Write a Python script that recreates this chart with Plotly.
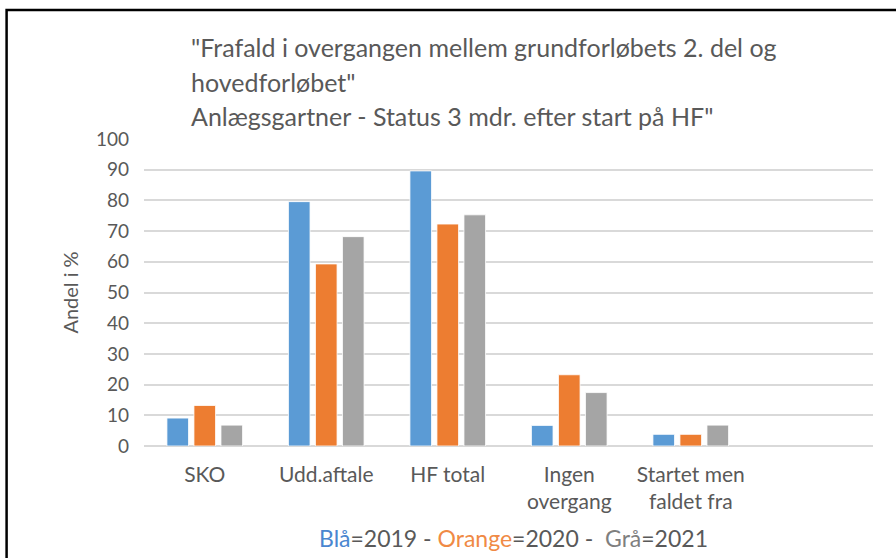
import plotly.graph_objects as go

categories = ["SKO", "Udd.aftale", "HF total", "Ingen<br>overgang", "Startet men<br>faldet fra"]
v2019 = [9.1, 79.6, 89.6, 6.7, 3.8]
v2020 = [13.2, 59.3, 72.3, 23.2, 3.8]
v2021 = [6.8, 68.2, 75.3, 17.4, 6.8]
series = [("2019", v2019, "#5B9BD5"), ("2020", v2020, "#ED7D31"), ("2021", v2021, "#A5A5A5")]
yticks = list(range(0, 101, 10))

title_lines = [
    '"Frafald i overgangen mellem grundforløbets 2. del og',
    'hovedforløbet"',
    'Anlægsgartner - Status 3 mdr. efter start på HF"',
]

FONT = "Lato, Carlito, Calibri, sans-serif"
TXT = "#595959"

fig = go.Figure()
for name, vals, col in series:
    fig.add_trace(go.Bar(x=categories, y=vals, name=name, marker=dict(color=col, line=dict(color="white", width=0.8))))

W, H = 896, 558
L, R, T, B = 143.5, 873, 139, 446
pw, ph = R - L, B - T

def px(x):
    return (x - L) / pw

def py(y):
    return (B - y) / ph

fig.update_layout(
    width=W, height=H,
    margin=dict(l=L, r=W - R, t=T, b=H - B, autoexpand=False),
    paper_bgcolor="white", plot_bgcolor="white",
    barmode="group", bargap=0.333, bargroupgap=0.2,
    showlegend=False,
    font=dict(family=FONT, color=TXT, size=19),
    xaxis=dict(type="category", range=[-0.5, 5.5], showgrid=False, showline=False,
               tickfont=dict(size=21, color=TXT), ticklabelstandoff=14, fixedrange=True),
    yaxis=dict(range=[0, 100], tickvals=yticks, gridcolor="#D9D9D9", gridwidth=1.5,
               zeroline=True, zerolinecolor="#D9D9D9", zerolinewidth=1.5,
               tickfont=dict(size=19, color=TXT), ticklabelstandoff=14,
               title=dict(text="Andel i %", font=dict(size=20, color=TXT), standoff=11)),
)

for i, (line, yy) in enumerate(zip(title_lines, [47, 82, 116])):
    fig.add_annotation(text=line, xref="paper", yref="paper", x=px(189), y=py(yy),
                       xanchor="left", yanchor="middle", showarrow=False,
                       font=dict(size=25, color=TXT, family=FONT))

legend_text = ('<span style="color:#4A86D0">Blå</span>=2019 - '
               '<span style="color:#F08A45">Orange</span>=2020 -  '
               '<span style="color:#7F7F7F">Grå</span>=2021')
fig.add_annotation(text=legend_text, xref="paper", yref="paper", x=px(513), y=py(538),
                   xanchor="center", yanchor="middle", showarrow=False,
                   font=dict(size=23, color=TXT, family=FONT))

fig.add_shape(type="rect", xref="paper", yref="paper",
              x0=px(6), x1=px(905), y0=py(570), y1=py(10),
              line=dict(color="black", width=2.5), fillcolor="rgba(0,0,0,0)", layer="above")

fig.write_html("out.html", config={"displayModeBar": False})

with open("out.html", "r", encoding="utf-8") as f:
    html = f.read()
html = html.replace("<head>", "<head><style>html,body{margin:0;padding:0;overflow:hidden;}</style>", 1)
with open("out.html", "w", encoding="utf-8") as f:
    f.write(html)
